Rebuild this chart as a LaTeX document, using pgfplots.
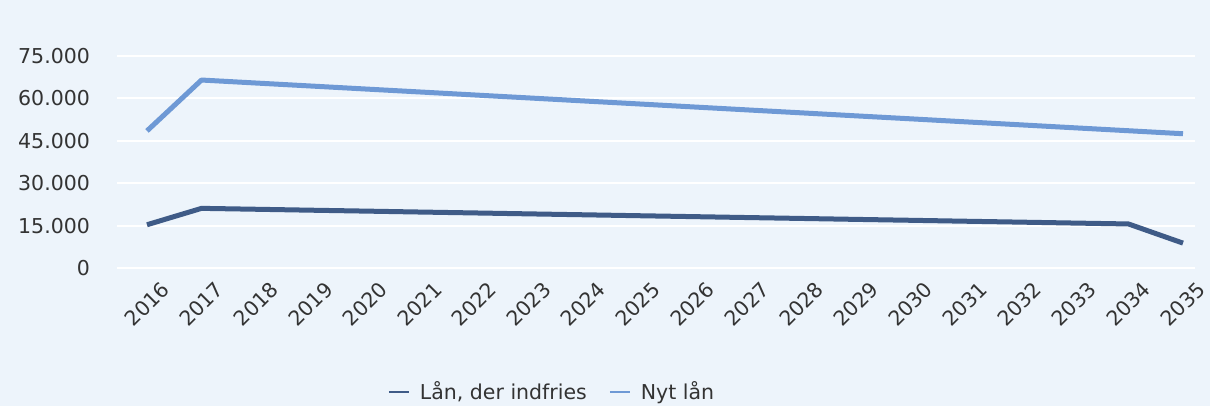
\documentclass[border=0pt]{standalone}
\usepackage{fontspec}
\setmainfont{DejaVu Sans}
\usepackage{pgfplots}
\pgfplotsset{compat=1.18}
\definecolor{bg}{HTML}{EDF4FB}
\definecolor{darkline}{HTML}{3F5B87}
\definecolor{lightline}{HTML}{6E99D5}
\definecolor{txt}{HTML}{333333}
\begin{document}
\begin{tikzpicture}
\fill[bg] (0,0) rectangle (605pt,203pt);
\useasboundingbox (0,0) rectangle (605pt,203pt);
\begin{axis}[
  at={(58.5pt,69pt)}, anchor=south west,
  scale only axis, width=539pt, height=106pt,
  xmin=2015.45, xmax=2035.22, ymin=0, ymax=75000,
  xtick={2016,...,2035},
  ytick={0,15000,30000,45000,60000,75000},
  xticklabel={\pgfmathprintnumber[1000 sep={}]{\tick}},
  /pgf/number format/1000 sep={.},
  /pgf/number format/assume math mode=true,
  scaled y ticks=false,
  axis line style={draw=none},
  major tick length=0pt,
  ymajorgrids, major grid style={white, line width=1pt},
  font=\fontsize{10.25pt}{12pt}\selectfont,
  every tick label/.append style={text=txt},
  yticklabel style={xshift=-10pt},
  xticklabel style={yshift=-18pt, rotate=45, anchor=center},
  legend style={at={(axis description cs:0.4045,-0.585)}, anchor=center, draw=none, fill=none,
    legend columns=2, font=\fontsize{10.25pt}{12pt}\selectfont, text=txt,
    /tikz/every odd column/.append style={column sep=3pt},
    /tikz/every even column/.append style={column sep=9pt}},
  legend image code/.code={\draw[#1, line width=1pt] (0pt,0pt) -- (10pt,0pt);},
]
\addplot[darkline, line width=2.5pt, line join=round] coordinates {
(2016,15300) (2017,21100) (2018,20780) (2019,20450) (2020,20130) (2021,19800)
(2022,19480) (2023,19150) (2024,18830) (2025,18500) (2026,18180) (2027,17850)
(2028,17530) (2029,17200) (2030,16880) (2031,16550) (2032,16230) (2033,15900)
(2034,15580) (2035,8800)};
\addlegendentry{Lån, der indfries}
\addplot[lightline, line width=2.5pt, line join=round] coordinates {
(2016,48500) (2017,66500) (2018,65440) (2019,64390) (2020,63330) (2021,62280)
(2022,61220) (2023,60170) (2024,59110) (2025,58060) (2026,57000) (2027,55940)
(2028,54890) (2029,53830) (2030,52780) (2031,51720) (2032,50670) (2033,49610)
(2034,48560) (2035,47500)};
\addlegendentry{Nyt lån}
\end{axis}
\end{tikzpicture}
\end{document}
